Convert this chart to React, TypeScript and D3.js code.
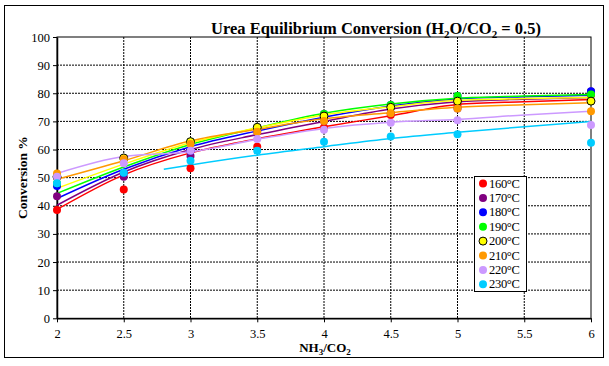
import { useEffect, useRef } from 'react';
import * as d3 from 'd3';

// measured points (NH3/CO2 ratio)
const pointX = [2, 2.5, 3, 3.5, 4, 4.5, 5, 6];
// trendline knots
const fitX = [2, 2.5, 3, 3.5, 4, 4.5, 5, 5.5, 6];
const cyanFitX = [2.8, 3, 3.5, 4, 4.5, 5, 5.5, 6];

const temps = ['160', '170', '180', '190', '200', '210', '220', '230'];
const colours = ['#ff0000', '#800080', '#0000ff', '#00ff00', '#ffff00', '#ff9900', '#cc99ff', '#00ccff'];

const pts160 = [38.5, 45.8, 53.3, 61.0, 67.8, 72.3, 75.8, 79.4];
const pts170 = [43.4, 50.3, 57.7, 66.3, 70.1, 72.9, 74.6, 80.6];
const pts180 = [47.0, 51.7, 59.6, 67.9, 72.6, 75.8, 79.0, 80.7];
const pts190 = [48.0, 56.5, 62.8, 67.9, 72.6, 75.8, 79.0, 79.6];
const pts200 = [50.3, 57.0, 62.8, 67.9, 71.9, 75.0, 77.2, 77.2];
const pts210 = [51.5, 56.5, 62.0, 66.3, 70.1, 72.9, 74.6, 73.6];
const pts220 = [50.3, 55.1, 59.6, 63.7, 67.0, 69.5, 70.4, 68.7];
const pts230 = [48.0, 51.7, 56.0, 59.6, 62.8, 64.6, 65.4, 62.4];

const fit160 = [38.7, 51.0, 58.8, 63.8, 68.1, 72.0, 76.0, 77.0, 77.8];
const fit170 = [40.2, 52.0, 60.0, 65.3, 70.0, 74.4, 77.0, 77.9, 78.5];
const fit180 = [42.6, 53.0, 61.0, 66.6, 71.5, 75.5, 78.0, 78.8, 79.3];
const fit190 = [44.4, 53.8, 61.8, 67.7, 72.9, 76.2, 78.2, 79.0, 79.6];
const fit200 = [46.2, 54.8, 62.4, 67.7, 72.3, 75.2, 77.5, 78.1, 78.5];
const fit210 = [49.4, 56.0, 63.1, 67.2, 70.9, 73.1, 75.0, 75.9, 76.6];
const fit220 = [51.5, 57.5, 59.2, 63.6, 67.5, 69.7, 70.7, 72.3, 73.6];
const fit230 = [53.0, 54.5, 58.0, 61.0, 63.9, 66.1, 68.1, 70.0];

const yTicks = [0, 10, 20, 30, 40, 50, 60, 70, 80, 90, 100];
const xTicks = [2, 2.5, 3, 3.5, 4, 4.5, 5, 5.5, 6];

const App = () => {
  const svgRef = useRef(null);

  useEffect(() => {
    document.body.style.margin = '0';
    const svg = d3.select(svgRef.current);
    svg.selectAll('*').remove();

    const font = '"Liberation Serif", "Times New Roman", serif';

    const margin = { top: 37, left: 57 };
    const innerW = 591 - margin.left;
    const innerH = 318.3 - margin.top;

    // outer frame
    svg.append('rect')
      .attr('x', 4.5).attr('y', 5.5)
      .attr('width', 599).attr('height', 352)
      .attr('fill', 'white')
      .attr('stroke', 'black')
      .attr('stroke-width', 1);

    const xScale = d3.scaleLinear().domain([2, 6]).range([0, innerW]);
    const yScale = d3.scaleLinear().domain([0, 100]).range([innerH, 0]);

    const g = svg.append('g').attr('transform', `translate(${margin.left},${margin.top})`);

    // gridlines
    g.append('g')
      .selectAll('line')
      .data(yTicks.filter((d) => d > 0 && d < 100))
      .enter()
      .append('line')
      .attr('x1', 0).attr('x2', innerW)
      .attr('y1', (d) => yScale(d)).attr('y2', (d) => yScale(d))
      .attr('stroke', 'black')
      .attr('stroke-width', 1)
      .attr('stroke-dasharray', '2,1');

    g.append('g')
      .selectAll('line')
      .data(xTicks.filter((d) => d > 2 && d < 6))
      .enter()
      .append('line')
      .attr('y1', 0).attr('y2', innerH)
      .attr('x1', (d) => xScale(d)).attr('x2', (d) => xScale(d))
      .attr('stroke', 'black')
      .attr('stroke-width', 1)
      .attr('stroke-dasharray', '2,1');

    // plot area border
    g.append('rect')
      .attr('x', 0).attr('y', 0)
      .attr('width', innerW).attr('height', innerH)
      .attr('fill', 'none')
      .attr('stroke', 'black')
      .attr('stroke-width', 1);

    // axes
    const xAxis = d3.axisBottom(xScale).tickValues(xTicks).tickSize(4).tickSizeOuter(0).tickFormat(d3.format('~g'));
    const yAxis = d3.axisLeft(yScale).tickValues(yTicks).tickSize(4).tickSizeOuter(0);

    g.append('g')
      .attr('transform', `translate(0,${innerH})`)
      .call(xAxis)
      .call((a) => a.selectAll('text').style('font-family', font).style('font-size', '12.5px').attr('fill', 'black').attr('dy', '1.05em'))
      .call((a) => a.select('.domain').attr('stroke-width', 1.5));

    g.append('g')
      .call(yAxis)
      .call((a) => a.selectAll('text').style('font-family', font).style('font-size', '12.5px').attr('fill', 'black').attr('x', -7))
      .call((a) => a.select('.domain').attr('stroke-width', 1.5));

    const series = [
      { pts: pts160, fit: fit160, fx: fitX },
      { pts: pts170, fit: fit170, fx: fitX },
      { pts: pts180, fit: fit180, fx: fitX },
      { pts: pts190, fit: fit190, fx: fitX },
      { pts: pts200, fit: fit200, fx: fitX },
      { pts: pts210, fit: fit210, fx: fitX },
      { pts: pts220, fit: fit220, fx: fitX },
      { pts: pts230, fit: fit230, fx: cyanFitX },
    ];

    // trendlines first
    series.forEach((s, i) => {
      const path = s.fx.map((x, j) => [xScale(x), yScale(s.fit[j])] as [number, number]);
      g.append('path')
        .attr('fill', 'none')
        .attr('stroke', colours[i])
        .attr('stroke-width', 1.5)
        .attr('d', d3.line().curve(d3.curveMonotoneX)(path));
    });

    // markers
    series.forEach((s, i) => {
      g.append('g')
        .selectAll('circle')
        .data(pointX)
        .enter()
        .append('circle')
        .attr('cx', (d) => xScale(d))
        .attr('cy', (d, j) => yScale(s.pts[j]))
        .attr('r', 4)
        .attr('fill', colours[i])
        .attr('stroke', i === 4 ? 'black' : 'none')
        .attr('stroke-width', 1);
    });

    // title
    svg.append('text')
      .attr('x', 376)
      .attr('y', 34)
      .attr('text-anchor', 'middle')
      .style('font-family', font)
      .style('font-size', '16.5px')
      .style('font-weight', 'bold')
      .call((t) => {
        t.append('tspan').text('Urea Equilibrium Conversion (H');
        t.append('tspan').attr('dy', 4).style('font-size', '11px').text('2');
        t.append('tspan').attr('dy', -4).text('O/CO');
        t.append('tspan').attr('dy', 4).style('font-size', '11px').text('2');
        t.append('tspan').attr('dy', -4).text(' = 0.5)');
      });

    // axis titles
    svg.append('text')
      .attr('x', 325)
      .attr('y', 352)
      .attr('text-anchor', 'middle')
      .style('font-family', font)
      .style('font-size', '13px')
      .style('font-weight', 'bold')
      .call((t) => {
        t.append('tspan').text('NH');
        t.append('tspan').attr('dy', 3).style('font-size', '9px').text('3');
        t.append('tspan').attr('dy', -3).text('/CO');
        t.append('tspan').attr('dy', 3).style('font-size', '9px').text('2');
      });

    svg.append('text')
      .attr('transform', `translate(27,${(margin.top + 318.3) / 2}) rotate(-90)`)
      .attr('text-anchor', 'middle')
      .style('font-family', font)
      .style('font-size', '13.5px')
      .style('font-weight', 'bold')
      .text('Conversion %');

    // legend
    const legend = svg.append('g').attr('transform', 'translate(474.5,176.5)');
    legend.append('rect')
      .attr('width', 52).attr('height', 115)
      .attr('fill', 'white')
      .attr('stroke', 'black')
      .attr('stroke-width', 1);
    temps.forEach((t, i) => {
      const y = 7 + i * 14.4;
      legend.append('circle')
        .attr('cx', 8.5).attr('cy', y).attr('r', 4)
        .attr('fill', colours[i])
        .attr('stroke', i === 4 ? 'black' : 'none');
      legend.append('text')
        .attr('x', 14.5).attr('y', y + 4)
        .style('font-family', font)
        .style('font-size', '12.5px')
        .attr('letter-spacing', '-0.3')
        .text(`${t}°C`);
    });
  }, []);

  return (
    <svg ref={svgRef} width={609} height={366} style={{ position: 'absolute', left: 0, top: 0, display: 'block' }} />
  );
};

export default App;
